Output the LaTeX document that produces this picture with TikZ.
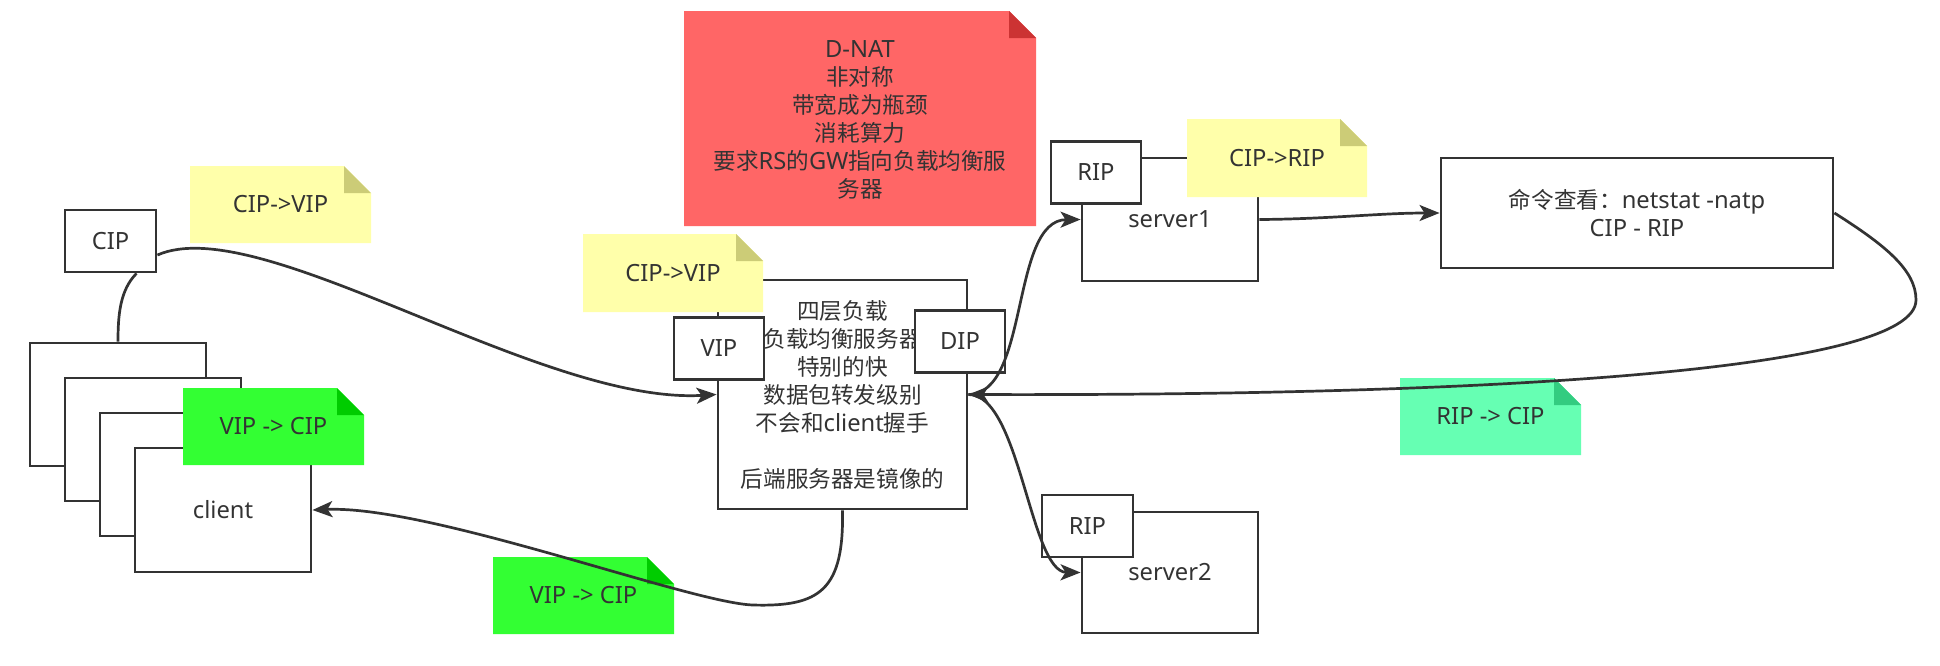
\documentclass[tikz,border=0pt]{standalone}
\usepackage{fontspec}
\setmainfont{Noto Sans}[Scale=1.05]
\newfontfamily\cjk{Noto Sans CJK SC}
\usetikzlibrary{arrows.meta,calc}
\definecolor{ink}{HTML}{333333}
\definecolor{ylw}{HTML}{FFFFAA}
\definecolor{ylwd}{HTML}{CCCC77}
\definecolor{rednote}{HTML}{FF6666}
\definecolor{rednoted}{HTML}{CC3333}
\definecolor{grnnote}{HTML}{33FF33}
\definecolor{grnnoted}{HTML}{00CC00}
\definecolor{tealnote}{HTML}{66FFB3}
\definecolor{tealnoted}{HTML}{33CC80}
\def\ppb{path picture bounding box}
\begin{document}
\begin{tikzpicture}[x=0.5pt,y=-0.5pt,
  every node/.style={text=ink, font=\fontsize{11.3pt}{14pt}\selectfont},
  box/.style={draw=ink, line width=1.45pt, fill=white, inner sep=0pt},
  smallbox/.style={box, minimum width=45pt, minimum height=31pt},
  bigbox/.style={box, minimum width=88pt, minimum height=61.5pt},
  conn/.style={draw=ink, line width=1.35pt},
  arr/.style={conn, -{Stealth[length=10pt,width=8pt,inset=2.5pt]}},
  stickynote/.style 2 args={inner sep=0pt, minimum width=90.5pt, minimum height=38.5pt,
    path picture={
      \fill[#1] (\ppb.south west) -- (\ppb.north west) -- ($(\ppb.north east)+(-27,0)$)
        -- ($(\ppb.north east)+(0,27)$) -- (\ppb.south east) -- cycle;
      \fill[#2] ($(\ppb.north east)+(-27,0)$) -- ($(\ppb.north east)+(-27,27)$)
        -- ($(\ppb.north east)+(0,27)$) -- cycle;
    }}
]
\fill[white] (0,0) rectangle (1940,665);
\useasboundingbox (0,0) rectangle (1940,665);

% client stack
\node[bigbox] (r1) at (118,404.5) {};
\node[bigbox] (r2) at (153,439.5) {};
\node[bigbox] (r3) at (188,474.5) {};
\node[bigbox, minimum height=62pt] (client) at (223,510) {client};
\node[smallbox, minimum width=45.5pt] (cip) at (110.5,241) {CIP};

% notes left
\node[stickynote={ylw}{ylwd}] (n1) at (280.5,204.5) {CIP->VIP};
\node[stickynote={grnnote}{grnnoted}] (g1) at (273.5,426.5) {VIP -> CIP};

% main load balancer
\node[box, minimum width=124.5pt, minimum height=114.5pt, align=center] (main) at (842.5,394.5)
  {{\cjk 四层负载}\\{\cjk 负载均衡服务器}\\{\cjk 特别的快}\\{\cjk 数据包转发级别}\\{\cjk 不会和}client{\cjk 握手}\\[14pt]{\cjk 后端服务器是镜像的}};
\node[smallbox] (vip) at (719,348.5) {VIP};
\node[smallbox] (dip) at (960,341.5) {DIP};
\node[stickynote={ylw}{ylwd}, minimum width=90pt, minimum height=39pt] (n2) at (673,273) {CIP->VIP};

% red note
\node[stickynote={rednote}{rednoted}, minimum width=176pt, minimum height=107.5pt, align=center, text depth=0pt] (red) at (860,118.5)
  {D-NAT\\{\cjk 非对称}\\{\cjk 带宽成为瓶颈}\\{\cjk 消耗算力}\\{\cjk 要求}RS{\cjk 的}GW{\cjk 指向负载均衡服}\\{\cjk 务器}};

% servers
\node[bigbox] (server1) at (1170,219.5) {server1};
\node[smallbox] (rip1) at (1096,172.5) {RIP};
\node[stickynote={ylw}{ylwd}, minimum width=90pt, minimum height=39pt] (n3) at (1277,158) {CIP->RIP};
\node[bigbox, minimum height=60.5pt] (server2) at (1170,572.5) {server2};
\node[smallbox, minimum width=45.5pt] (rip2) at (1087.5,526) {RIP};

% command box
\node[box, minimum width=196pt, minimum height=55pt, align=center] (cmd) at (1637,213)
  {{\cjk 命令查看：}netstat -natp\\CIP - RIP};

% bottom notes
\node[stickynote={tealnote}{tealnoted}] (t1) at (1490.5,416.5) {RIP -> CIP};
\node[stickynote={grnnote}{grnnoted}] (g2) at (583.5,595.5) {VIP -> CIP};

% connectors
\draw[conn] ($(cip.south)+(26,0)$) .. controls (120,290) and (118,315) .. (r1.north);
\draw[arr] ($(cip.east)+(0,14)$) .. controls (260,210) and (540,405) .. (main.west);
\draw[arr] (main.south) .. controls (844,590) and (820,607) .. (753,605)
  .. controls (690,603) and (430,505) .. (client.east);
\draw[arr] (main.east) .. controls (1030,394) and (1010,220) .. (server1.west);
\draw[arr] (main.east) .. controls (1020,394) and (1030,572) .. (server2.west);
\draw[arr] (server1.east) .. controls (1330,219) and (1380,213) .. (cmd.west);
\coordinate (loop) at (1916,300);
\draw[arr] (cmd.east) .. controls (1885,245) and (1916,270) .. (loop)
  .. controls (1916,370) and (1500,396) .. (main.east);
\end{tikzpicture}
\end{document}
